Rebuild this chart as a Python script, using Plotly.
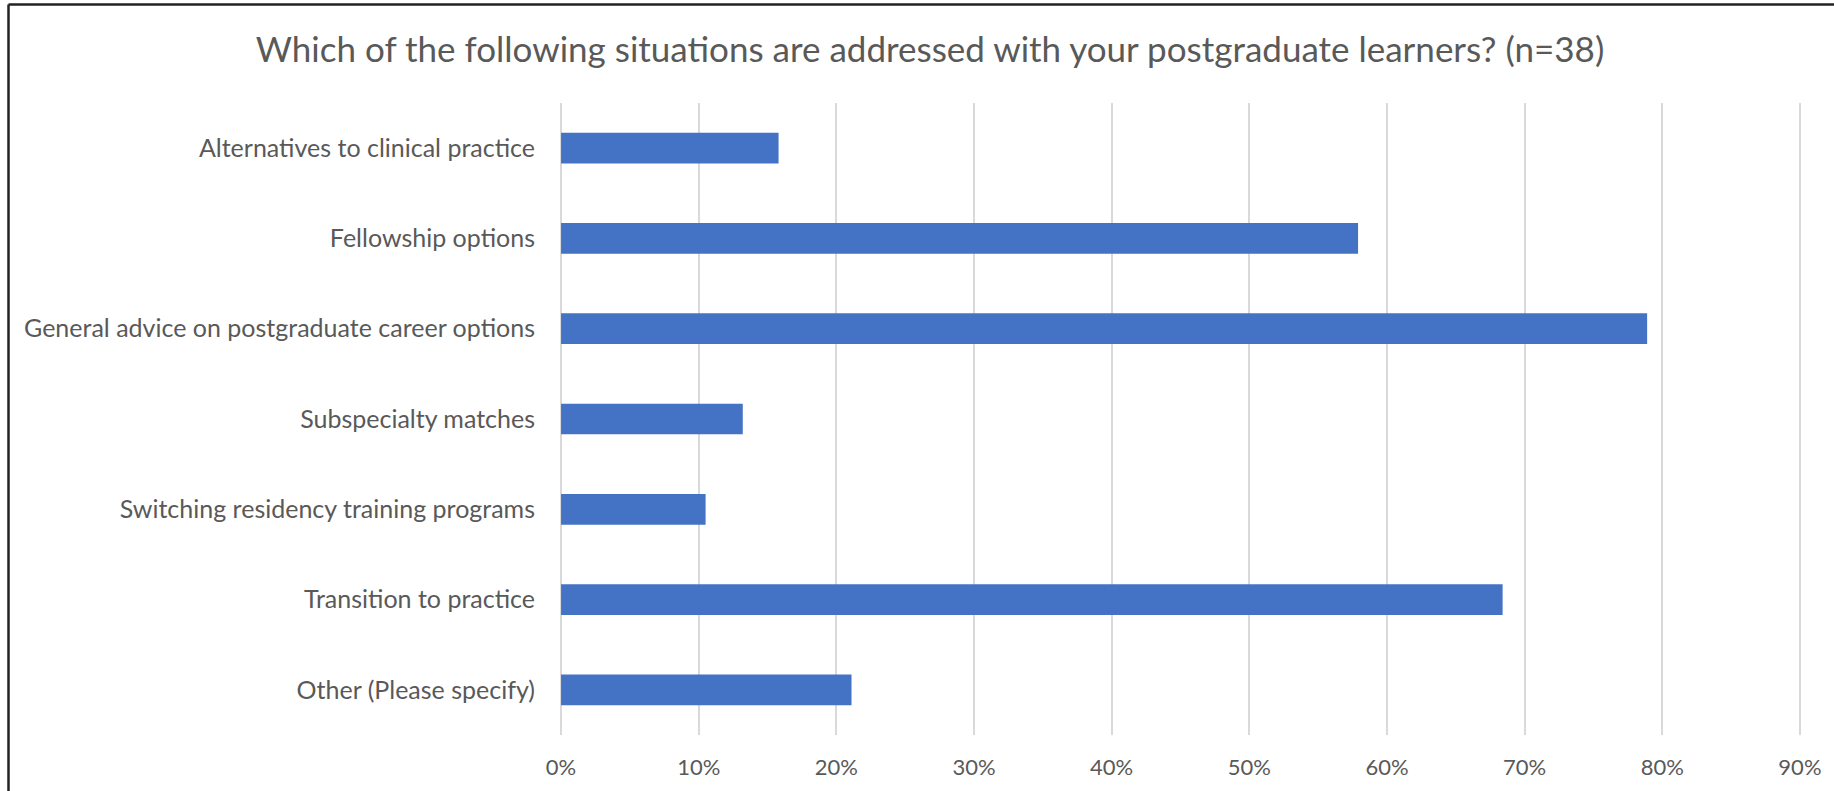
import plotly.graph_objects as go

categories = [
    "Alternatives to clinical practice",
    "Fellowship options",
    "General advice on postgraduate career options",
    "Subspecialty matches",
    "Switching residency training programs",
    "Transition to practice",
    "Other (Please specify)",
]
values = [0.158, 0.579, 0.789, 0.132, 0.105, 0.684, 0.211]
tick_vals = [0, 0.1, 0.2, 0.3, 0.4, 0.5, 0.6, 0.7, 0.8, 0.9]
tick_text = ["0%", "10%", "20%", "30%", "40%", "50%", "60%", "70%", "80%", "90%"]
title = "Which of the following situations are addressed with your postgraduate learners? (n=38)"

W, H = 1834, 791
L, R, T, B = 559, 32, 103, 56
pw, ph = W - L - R, H - T - B

fig = go.Figure(go.Bar(
    x=values, y=categories, orientation="h",
    marker=dict(color="#4472C4", line=dict(width=0)),
    width=0.34,
))

font_family = "Lato, 'Open Sans', sans-serif"
fig.update_layout(
    width=W, height=H,
    margin=dict(l=L, r=R, t=T, b=B, pad=0),
    paper_bgcolor="white", plot_bgcolor="white",
    showlegend=False,
    font=dict(family=font_family, color="#595959"),
    title=dict(text=title, x=930 / W, xanchor="center", y=1 - 50 / H, yanchor="middle",
               font=dict(size=35, color="#595959", family=font_family)),
    xaxis=dict(range=[-0.0015, 0.9015], tickvals=tick_vals, ticktext=tick_text,
               showgrid=True, gridcolor="#D9D9D9", gridwidth=1.5,
               zeroline=False, showline=False, ticks="",
               tickfont=dict(size=22, color="#595959"), ticklabelstandoff=17),
    yaxis=dict(autorange="reversed", showgrid=False, zeroline=False, showline=False,
               ticks="", tickfont=dict(size=25, color="#595959"), ticklabelstandoff=23),
    bargap=0.66,
)

# chart border (left and top edges visible)
x_left = (8.5 - L) / pw
y_top = (H - B - 4.5) / ph
fig.add_shape(type="line", xref="paper", yref="paper", x0=x_left, x1=(W + 20 - L) / pw,
              y0=y_top, y1=y_top, line=dict(color="#222222", width=2.5))
fig.add_shape(type="line", xref="paper", yref="paper", x0=x_left, x1=x_left,
              y0=y_top, y1=(-B - 20) / ph, line=dict(color="#222222", width=2.5))

fig.write_html(
    "out.html",
    config={"displayModeBar": False},
    post_script="document.body.style.margin='0';document.body.style.overflow='hidden';"
                "document.documentElement.style.overflow='hidden';",
)
